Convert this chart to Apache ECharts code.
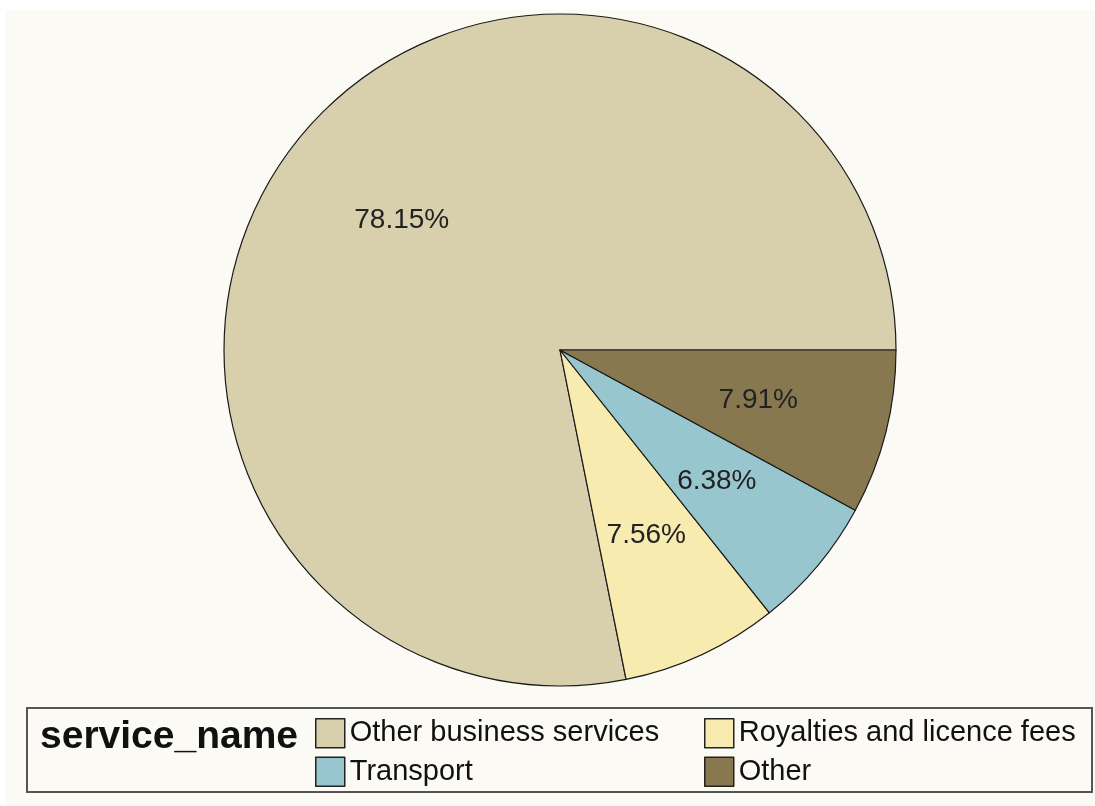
<!DOCTYPE html>
<html>
<head>
<meta charset="utf-8">
<script src="https://cdn.jsdelivr.net/npm/echarts@6/dist/echarts.min.js"></script>
<style>
html,body{margin:0;padding:0;background:#ffffff;}
#chart{width:1095px;height:806px;}
</style>
</head>
<body>
<div id="chart"></div>
<script>
const categories = ['Other business services', 'Royalties and licence fees', 'Transport', 'Other'];
const shares = [78.15, 7.56, 6.38, 7.91];
const colors = ['#D8D0AD', '#F8EBB0', '#98C6CE', '#887850'];
const legendTitle = 'service_name';
const legendColumn1 = ['Other business services', 'Transport'];
const legendColumn2 = ['Royalties and licence fees', 'Other'];

const chart = echarts.init(document.getElementById('chart'), null, {renderer: 'canvas'});
const FONT = '"Liberation Sans", Arial, sans-serif';
const R = 336;

const sliceData = categories.map((c, i) => ({
  name: c, value: shares[i],
  itemStyle: {color: colors[i]}
}));
const labelData = categories.map((c, i) => ({name: c, value: shares[i]}));

function legendFor(names, left) {
  return {
    left: left, top: 713,
    orient: 'vertical',
    itemWidth: 29, itemHeight: 29, itemGap: 8, itemTextGap: 6,
    icon: 'rect',
    selectedMode: false,
    textStyle: {fontFamily: FONT, fontSize: 29, color: '#111111'},
    data: names.map(n => {
      const i = categories.indexOf(n);
      return {name: n, itemStyle: {color: colors[i], borderColor: '#222222', borderWidth: 1.5}};
    })
  };
}

chart.setOption({
  backgroundColor: '#ffffff',
  animation: false,
  graphic: [
    {type: 'rect', z: -10, shape: {x: 5, y: 10, width: 1090, height: 796}, style: {fill: '#FCFAF4'}},
    {type: 'rect', z: 1, shape: {x: 27, y: 708, width: 1065, height: 84}, style: {fill: 'none', stroke: '#555555', lineWidth: 2}}
  ],
  title: {
    text: legendTitle, left: 35, top: 713,
    textStyle: {fontFamily: FONT, fontWeight: 'bold', fontSize: 39, color: '#111111'}
  },
  legend: [legendFor(legendColumn1, 310), legendFor(legendColumn2, 699)],
  series: [
    {
      type: 'pie', center: [560, 350], radius: [0, R],
      startAngle: 0, clockwise: false,
      label: {show: false}, labelLine: {show: false},
      itemStyle: {borderColor: '#1a1a1a', borderWidth: 1.2},
      emphasis: {disabled: true},
      silent: true,
      data: sliceData
    },
    {
      type: 'pie', center: [560, 350], radius: [0, R * 1.2],
      startAngle: 0, clockwise: false,
      silent: true,
      emphasis: {disabled: true},
      itemStyle: {color: 'rgba(0,0,0,0)', borderWidth: 0},
      label: {
        show: true, position: 'inside',
        fontFamily: FONT, fontSize: 28, color: '#222222',
        formatter: p => p.value.toFixed(2) + '%'
      },
      labelLine: {show: false},
      data: labelData
    }
  ]
});
</script>
</body>
</html>
